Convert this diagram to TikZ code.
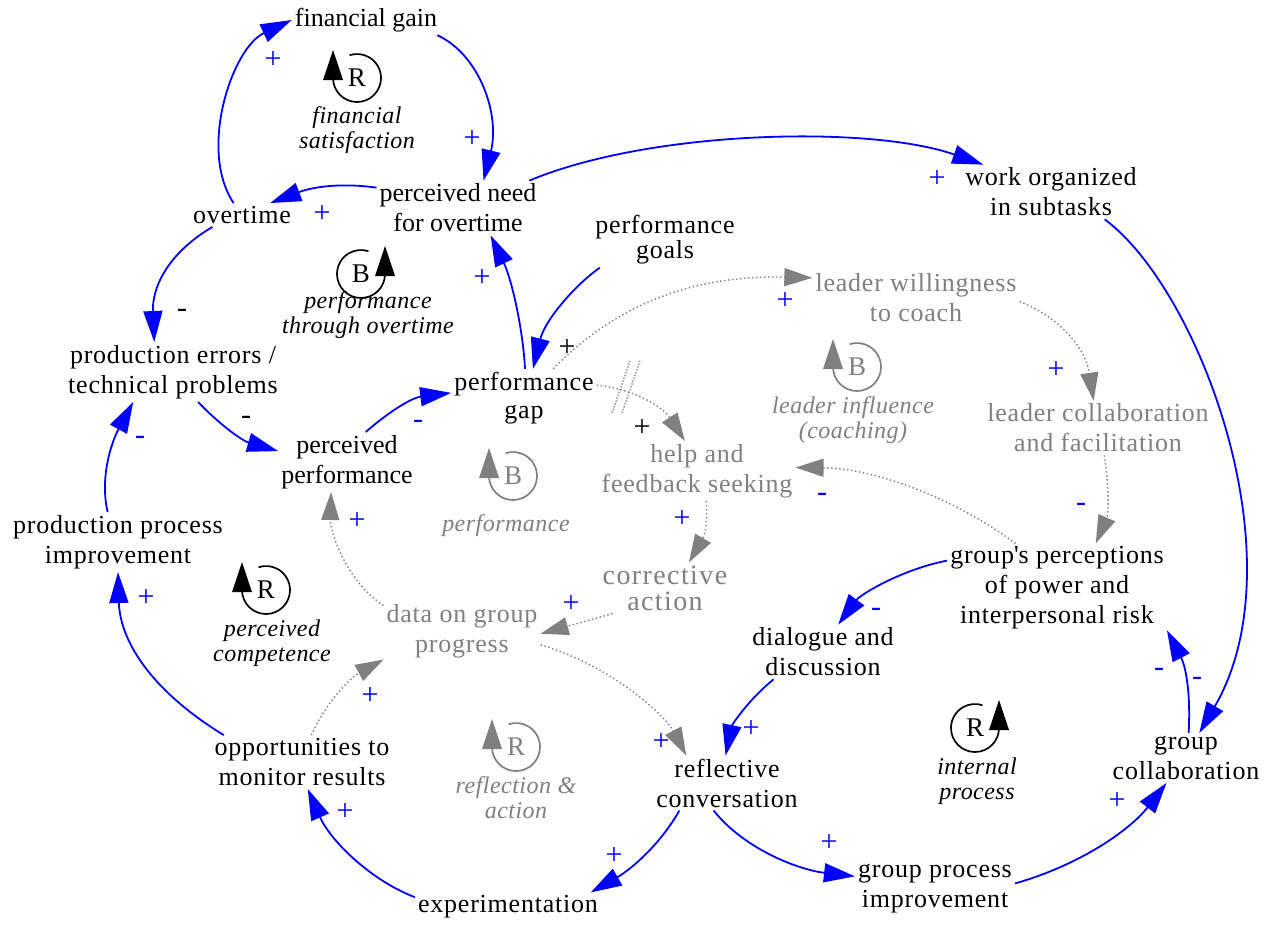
\documentclass[tikz,border=0pt]{standalone}
\usepackage{fontspec}
\setmainfont{Liberation Serif}
\usetikzlibrary{arrows.meta}
\definecolor{cblue}{RGB}{0,0,255}
\definecolor{cgray}{RGB}{128,128,128}
% loop symbol, arrow on the left: name, x, y (image px), letter, colour
\newcommand\loopL[5]{%
  \node[inner sep=0pt,font=\fontsize{27}{27}\selectfont,text=#5] (#1) at (#2,-#3) {#4};
  \draw[#5,line width=1.7pt] (#2-24,-#3) arc[start angle=180,end angle=468,radius=24];
  \fill[#5] (#2-34,-#3-2) -- (#2-24,-#3+28) -- (#2-14,-#3-2) -- cycle;
}
% loop symbol, arrow on the right
\newcommand\loopR[5]{%
  \node[inner sep=0pt,font=\fontsize{27}{27}\selectfont,text=#5] (#1) at (#2,-#3) {#4};
  \draw[#5,line width=1.7pt] (#2+24,-#3) arc[start angle=0,end angle=-288,radius=24];
  \fill[#5] (#2+14,-#3-2) -- (#2+24,-#3+28) -- (#2+34,-#3-2) -- cycle;
}
\begin{document}
\begin{tikzpicture}[x=1pt,y=1pt,
  var/.style={align=center,inner sep=3pt,font=\fontsize{26}{30}\selectfont\addfontfeatures{LetterSpace=3}},
  tightvar/.style={align=center,inner sep=3pt,font=\fontsize{26}{30}\selectfont},
  gvar/.style={var,text=cgray},
  lbl/.style={align=center,inner sep=0pt,font=\fontsize{24}{25}\selectfont\itshape\addfontfeatures{LetterSpace=2}},
  glbl/.style={lbl,text=cgray},
  sg/.style={inner sep=0pt,font=\fontsize{30}{30}\selectfont,text=cblue},
  bsg/.style={sg,text=black},
  link/.style={draw=cblue,line width=1.8pt,-{Triangle[length=31pt,width=19pt]}},
  glink/.style={draw=cgray,line width=1.4pt,dash pattern=on 1.4pt off 2.6pt,-{Triangle[length=28pt,width=18pt]}},
  delaymark/.style={draw=cgray,line width=1.2pt,dash pattern=on 1.4pt off 1.6pt},
]
\fill[white] (0,0) rectangle (1264,-924);
\useasboundingbox (0,0) rectangle (1264,-924);

% variables
\node[tightvar] (fg) at (366,-20) {financial gain};
\node[tightvar] (pn) at (458,-208) {perceived need\\for overtime};
\node[var] (ot) at (242,-215) {overtime};
\node[var] (wo) at (1051,-192) {work organized\\in subtasks};
\node[var,font=\fontsize{26}{25}\selectfont\addfontfeatures{LetterSpace=3}] (pg) at (665,-240) {performance\\goals};
\node[gvar] (lw) at (916,-298) {leader willingness\\to coach};
\node[var] (pe) at (173,-372) {production errors /\\technical problems};
\node[var,font=\fontsize{26}{28}\selectfont\addfontfeatures{LetterSpace=3}] (gap) at (524,-398) {performance\\gap};
\node[gvar] (lc) at (1098,-428) {leader collaboration\\and facilitation};
\node[tightvar] (pp) at (347,-462) {perceived\\performance};
\node[gvar] (hf) at (697,-471) {help and\\feedback seeking};
\node[var] (ppi) at (118,-542) {production process\\improvement};
\node[var] (gpr) at (1057,-588) {group\textquotesingle s perceptions\\of power and\\interpersonal risk};
\node[gvar,font=\fontsize{28}{26}\selectfont\addfontfeatures{LetterSpace=5}] (ca) at (665,-588) {corrective\\action};
\node[gvar] (dg) at (462,-631) {data on group\\progress};
\node[var] (dd) at (823,-652) {dialogue and\\discussion};
\node[var] (om) at (302,-762) {opportunities to\\monitor results};
\node[var] (rc) at (727,-783) {reflective\\conversation};
\node[var] (gc) at (1186,-758) {group\\collaboration};
\node[var] (ex) at (508,-907) {experimentation};
\node[var] (gpi) at (935,-889) {group process\\improvement};

% loop symbols and names
\loopL{r1}{357}{78}{R}{black}
\loopR{b1}{361}{274}{B}{black}
\loopL{b2}{513}{476}{B}{cgray}
\loopL{b3}{857}{367}{B}{cgray}
\loopL{r2}{266}{590}{R}{black}
\loopL{r3}{516}{747}{R}{cgray}
\loopR{r4}{975}{728}{R}{black}
\node[lbl] (l1) at (357,-130) {financial\\satisfaction};
\node[lbl] (l2) at (368,-315) {performance\\through overtime};
\node[glbl] (l3) at (506,-526) {performance};
\node[glbl] (l4) at (853,-420) {leader influence\\(coaching)};
\node[lbl] (l5) at (272,-643) {perceived\\competence};
\node[glbl] (l6) at (516,-798) {reflection \&\\action};
\node[lbl] (l7) at (977,-781) {internal\\process};

% solid blue links
\draw[link] (ot.125) .. controls (198,-150) and (232,-48) .. (fg.west);
\draw[link] (fg.-12) .. controls (480,-55) and (500,-115) .. (pn.47);
\draw[link] (pn.166) .. controls (345,-183) and (315,-186) .. (ot.23);
\draw[link] (pn.21) .. controls (650,-130) and (870,-125) .. (wo.158);
\draw[link] (ot.202) .. controls (165,-255) and (152,-290) .. (pe.122);
\draw[link] (wo.-27) .. controls (1200,-290) and (1300,-560) .. (gc.62);
\draw[link] (pg.203) .. controls (575,-285) and (545,-320) .. (gap.73);
\draw[link] (gap.88) .. controls (523,-330) and (512,-280) .. (pn.-40);
\draw[link] (pe.-50) .. controls (215,-420) and (240,-440) .. (pp.171);
\draw[link] (pp.58) .. controls (385,-415) and (410,-398) .. (gap.176);
\draw[link] (ppi.109) .. controls (100,-480) and (110,-445) .. (pe.217);
\draw[link] (om.161) .. controls (150,-690) and (120,-640) .. (ppi.south);
\draw[link] (ex.174) .. controls (370,-880) and (330,-840) .. (om.-78);
\draw[link] (rc.210) .. controls (660,-845) and (630,-870) .. (ex.10);
\draw[link] (rc.244) .. controls (745,-850) and (800,-870) .. (gpi.171);
\draw[link] (gpi.4) .. controls (1080,-865) and (1130,-830) .. (gc.232);
\draw[link] (gc.84) .. controls (1191,-690) and (1185,-665) .. (gpr.-21);
\draw[link] (gpr.166) .. controls (900,-570) and (860,-595) .. (dd.61);
\draw[link] (dd.209) .. controls (748,-700) and (732,-725) .. (rc.93);

% dotted grey links
\draw[glink] (gap.45) .. controls (620,-300) and (700,-275) .. (lw.169);
\draw[glink] (gap.10) .. controls (640,-390) and (665,-410) .. (hf.112);
\draw[glink] (lw.-2) .. controls (1055,-315) and (1085,-345) .. (lc.99);
\draw[glink] (lc.-77) .. controls (1110,-495) and (1108,-515) .. (gpr.49);
\draw[glink] (gpr.133) .. controls (950,-495) and (870,-468) .. (hf.2);
\draw[glink] (hf.-73) .. controls (708,-520) and (705,-535) .. (ca.47);
\draw[glink] (ca.206) -- (dg.-2);
\draw[glink] (dg.162) .. controls (345,-580) and (330,-530) .. (pp.242);
\draw[glink] (om.71) .. controls (330,-695) and (355,-675) .. (dg.200);
\draw[glink] (dg.-10) .. controls (610,-665) and (665,-715) .. (rc.146);
% delay mark
\draw[delaymark] (612,-413) -- (630,-361);
\draw[delaymark] (622,-413) -- (640,-361);

% polarity signs
\node[sg] (p1) at (273,-60) {+};
\node[sg] (p2) at (472,-139) {+};
\node[sg] (p3) at (322,-214) {+};
\node[sg] (p4) at (937,-179) {+};
\node[sg] (p5) at (482,-278) {+};
\node[sg] (p6) at (785,-301) {+};
\node[sg] (p7) at (1056,-370) {+};
\node[sg] (p8) at (682,-519) {+};
\node[sg] (p9) at (357,-521) {+};
\node[sg] (p10) at (571,-604) {+};
\node[sg] (p11) at (146,-598) {+};
\node[sg] (p12) at (370,-696) {+};
\node[sg] (p13) at (751,-729) {+};
\node[sg] (p14) at (661,-742) {+};
\node[sg] (p15) at (345,-812) {+};
\node[sg] (p16) at (1117,-801) {+};
\node[sg] (p17) at (614,-856) {+};
\node[sg] (p18) at (829,-843) {+};
\node[sg] (m1) at (418,-424) {-};
\node[sg] (m2) at (822,-497) {-};
\node[sg] (m3) at (1081,-507) {-};
\node[sg] (m4) at (140,-440) {-};
\node[sg] (m5) at (876,-612) {-};
\node[sg] (m6) at (1159,-672) {-};
\node[sg] (m7) at (1197,-681) {-};
\node[bsg] (k1) at (567,-348) {+};
\node[bsg] (k2) at (642,-428) {+};
\node[bsg] (k3) at (182,-313) {-};
\node[bsg] (k4) at (246,-420) {-};
\end{tikzpicture}
\end{document}
